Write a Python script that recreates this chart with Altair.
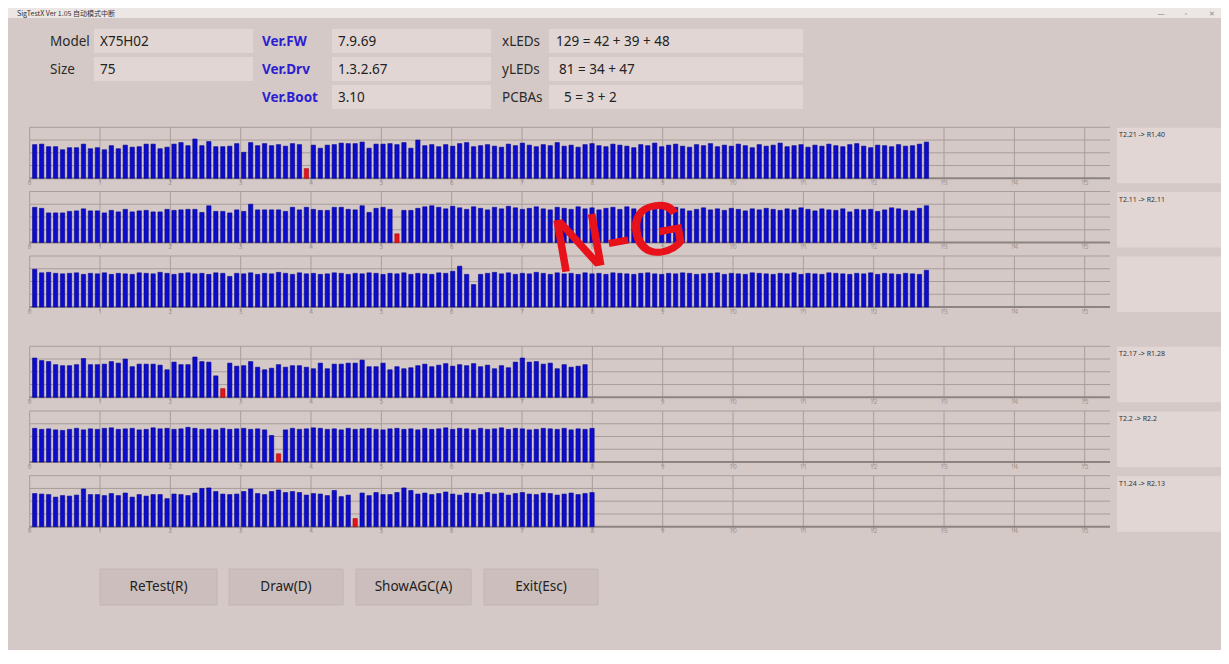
import altair as alt
import pandas as pd

# ---------------- data ----------------
TITLE = "SigTestX  Ver 1.05  自动模式中断"
INFO_LABELS_1 = ["Model", "Size"]
INFO_VALUES_1 = ["X75H02", "75"]
INFO_LABELS_2 = ["Ver.FW", "Ver.Drv", "Ver.Boot"]
INFO_VALUES_2 = ["7.9.69", "1.3.2.67", "3.10"]
INFO_LABELS_3 = ["xLEDs", "yLEDs", "PCBAs"]
INFO_VALUES_3 = ["129 = 42 + 39 + 48", "81 = 34 + 47", "5 = 3  + 2"]
BUTTONS = ["ReTest(R)", "Draw(D)", "ShowAGC(A)", "Exit(Esc)"]
PANEL_NAMES = ["T2.21 -> R1.40", "T2.11 -> R2.11", "", "T2.17 -> R1.28", "T2.2 -> R2.2", "T1.24 -> R2.13"]
TICK_LABELS = [str(i) for i in range(16)]
VERDICT = "N-G"

# signal level of each LED (percent of panel height); index of the failing LED
P1 = [66, 67, 62, 62, 56, 60, 60, 67, 58, 60, 56, 64, 58, 65, 61, 62, 67, 67, 58, 61,
      67, 70, 64, 77, 64, 72, 62, 62, 63, 68, 51, 70, 64, 68, 64, 66, 63, 68, 66, 19,
      65, 59, 65, 66, 69, 68, 68, 71, 59, 67, 67, 68, 66, 70, 59, 75,
      64, 66, 62, 66, 63, 68, 70, 62, 64, 66, 63, 61, 67, 64, 69, 65, 62, 66, 64, 70,
      63, 65, 61, 66, 68, 64, 62, 67, 65, 63, 60, 66, 64, 69, 62, 65, 67, 63, 61, 66,
      64, 68, 62, 65, 63, 67, 64, 60, 66, 63, 65, 69, 62, 64, 66, 61, 65, 63, 67, 64,
      62, 66, 68, 63, 60, 65, 64, 62, 66, 63, 64, 67, 71]
P2 = [69, 67, 58, 58, 58, 61, 62, 66, 62, 62, 58, 63, 60, 65, 60, 62, 63, 60, 60, 65,
      63, 64, 65, 65, 59, 72, 61, 61, 58, 64, 61, 75, 64, 64, 64, 64, 61, 69, 64, 69,
      65, 63, 63, 69, 69, 65, 64, 72, 59, 67, 69, 65, 17, 63, 63, 67,
      70, 72, 69, 66, 71, 68, 65, 70, 67, 64, 69, 66, 71, 68, 65, 67, 70, 66, 64, 69,
      67, 65, 70, 66, 68, 64, 67, 69, 65, 70, 66, 63, 68, 65, 67, 64, 69, 66, 62, 65,
      68, 64, 66, 63, 67, 65, 62, 66, 64, 67, 65, 63, 66, 64, 68, 65, 62, 66, 64, 63,
      66, 60, 65, 64, 65, 61, 64, 68, 66, 63, 62, 67, 72]
P3 = [74, 67, 68, 66, 65, 66, 67, 64, 66, 65, 67, 64, 66, 65, 64, 67, 66, 65, 68, 66,
      64, 66, 67, 65, 66, 64, 67, 66, 60, 66, 65, 67, 64, 66, 65, 68, 66, 64, 67, 65,
      66, 64, 65, 67, 66, 64, 66, 65, 67, 66, 64, 66, 65, 67, 64, 66, 65, 64, 67, 66,
      70, 80, 64, 44, 64, 66, 68, 65, 67, 64, 66, 65, 68, 66, 64, 67, 65, 66, 64, 67,
      65, 66, 64, 67, 66, 65, 64, 66, 67, 65, 64, 66, 65, 67, 66, 64, 65, 66, 67, 64,
      66, 65, 64, 67, 66, 65, 64, 66, 65, 67, 64, 66, 65, 64, 67, 66, 65, 64, 66, 65,
      67, 64, 66, 65, 64, 66, 65, 64, 72]
P4 = [77, 72, 70, 64, 62, 62, 64, 76, 64, 64, 65, 70, 67, 75, 60, 65, 65, 65, 63, 54,
      69, 64, 64, 79, 70, 69, 42, 17, 67, 61, 62, 70, 59, 54, 57, 64, 59, 62, 62, 59,
      56, 67, 56, 65, 65, 67, 67, 73, 60, 60, 67, 54, 60, 56, 58,
      62, 65, 60, 63, 66, 61, 64, 62, 66, 60, 63, 56,
      62, 58, 69, 77, 69, 70, 65, 67, 56, 64, 59, 61, 64]
P5 = [66, 64, 65, 63, 62, 64, 66, 63, 65, 64, 66, 67, 64, 65, 66, 63, 64, 67, 65, 66,
      64, 65, 68, 66, 64, 65, 63, 66, 64, 65, 66, 64, 65, 63, 52, 16, 63, 66, 64, 65,
      67, 66, 64, 65, 63, 66, 64, 65, 66, 64, 63, 65, 66, 64, 65, 63, 66, 64, 65, 67,
      64, 66, 65, 63, 66, 64, 65, 67, 64, 66, 65, 63, 64, 66, 65, 64, 66, 63, 65, 64, 66]
P6 = [65, 64, 63, 58, 61, 60, 62, 74, 63, 63, 61, 65, 61, 66, 58, 63, 60, 63, 63, 55,
      64, 63, 61, 66, 75, 76, 69, 64, 63, 64, 69, 74, 65, 63, 69, 72, 67, 69, 67, 62,
      65, 64, 61, 71, 59, 62, 16, 66, 61, 67, 63, 63, 67, 76, 71, 64,
      66, 63, 65, 68, 64, 62, 66, 65, 63, 67, 64, 66, 62, 65, 67, 64, 63, 66, 65, 62,
      64, 66, 63, 65, 67]
PANELS = [P1, P2, P3, P4, P5, P6]
RED_INDEX = [39, 52, -1, 27, 35, 46]
LEDS_PER_DIV = 10

# ---------------- layout / style ----------------
OFF = 8
W, H = 1213, 642
BG = "#d5c9c7"
BOX = "#e1d6d4"
TITLEBAR = "#ece6e5"
GRID = "#a89d9a"
AXIS = "#8d8380"
BLUE = "#0c0cca"
BLUE_EDGE = "#050590"
RED = "#e8121a"
RED_EDGE = "#a00a10"
TICKTXT = "#a09593"
BTN = "#cbbebc"
FONT = "Noto Sans"

X0, X15 = 29.7 - OFF, 1084.7 - OFF
XSCALE = alt.Scale(domain=[0, 15], range=[X0, X15])
X_END = 15.36
BASES = [v - OFF for v in [178.3, 242.5, 307.0, 397.3, 462.0, 526.7]]
PH = 51

layers = []


def rect_layer(df, fill, stroke=None, sw=0):
    kw = dict(fill=fill)
    if stroke:
        kw.update(stroke=stroke, strokeWidth=sw)
    return alt.Chart(df).mark_rect(**kw).encode(
        x=alt.X("x0:Q", scale=None, axis=None), x2="x1:Q",
        y=alt.Y("y0:Q", scale=None, axis=None), y2="y1:Q")


def text_layer(df, **kw):
    return alt.Chart(df).mark_text(**kw).encode(
        x=alt.X("x:Q", scale=None, axis=None),
        y=alt.Y("y:Q", scale=None, axis=None), text="t:N")


# title bar
layers.append(rect_layer(pd.DataFrame({"x0": [0], "x1": [W], "y0": [0], "y1": [10]}), TITLEBAR))
layers.append(text_layer(pd.DataFrame({"x": [9], "y": [5.5], "t": [TITLE]}),
                         font="Noto Sans CJK SC", fontSize=7, color="#333333", align="left", baseline="middle"))
layers.append(text_layer(pd.DataFrame({"x": [1153, 1178, 1204], "y": [5.5, 5.5, 5.5], "t": ["—", "▫", "✕"]}),
                         font=FONT, fontSize=7, color="#8a8a8a", align="center", baseline="middle"))

# info boxes
rows_y = [(21, 45), (49, 73), (77, 101)]
info_boxes = []
for (cx0, cx1), n in [((86, 245), 2), ((324, 483), 3), ((541, 795), 3)]:
    for r in range(n):
        info_boxes.append({"x0": cx0, "x1": cx1, "y0": rows_y[r][0], "y1": rows_y[r][1]})
layers.append(rect_layer(pd.DataFrame(info_boxes), BOX))

row_c = [33.5, 61.5, 89.5]
lab_plain = pd.DataFrame({"x": [42, 42] + [494] * 3,
                          "y": row_c[:2] + row_c,
                          "t": INFO_LABELS_1 + INFO_LABELS_3})
layers.append(text_layer(lab_plain, font=FONT, fontSize=13.5, color="#2a2a2a", align="left", baseline="middle"))
lab_blue = pd.DataFrame({"x": [254] * 3, "y": row_c, "t": INFO_LABELS_2})
layers.append(text_layer(lab_blue, font=FONT, fontSize=13.5, fontWeight="bold", color="#2b1ed0",
                         align="left", baseline="middle"))
vals = pd.DataFrame({"x": [92, 92, 330, 330, 330, 548, 551, 556],
                     "y": row_c[:2] + row_c + row_c,
                     "t": INFO_VALUES_1 + INFO_VALUES_2 + INFO_VALUES_3})
layers.append(text_layer(vals, font=FONT, fontSize=13.5, color="#222222", align="left", baseline="middle"))

# panel label boxes
pboxes = pd.DataFrame({"x0": [1109] * 6, "x1": [1216] * 6,
                       "y0": [b - PH + 0.5 for b in BASES], "y1": [b + 5 for b in BASES]})
layers.append(rect_layer(pboxes, BOX))
ptext = pd.DataFrame({"x": [1111] * 6, "y": [b - PH + 8 for b in BASES], "t": PANEL_NAMES})
layers.append(text_layer(ptext, font=FONT, fontSize=7, color="#333333", align="left", baseline="middle"))

# panels
for k, vals_k in enumerate(PANELS):
    base = BASES[k]
    ys = alt.Scale(domain=[0, 100], range=[base, base - PH])
    vg = pd.DataFrame({"x": list(range(16)), "top": [100] * 16, "bot": [-9] * 16})
    layers.append(alt.Chart(vg).mark_rule(color=GRID, strokeWidth=1).encode(
        x=alt.X("x:Q", scale=XSCALE, axis=None),
        y=alt.Y("top:Q", scale=ys, axis=None), y2="bot:Q"))
    hg = pd.DataFrame({"x": [0] * 4, "xe": [X_END] * 4, "v": [25, 50, 75, 100]})
    layers.append(alt.Chart(hg).mark_rule(color=GRID, strokeWidth=1).encode(
        x=alt.X("x:Q", scale=XSCALE, axis=None), x2="xe:Q",
        y=alt.Y("v:Q", scale=ys, axis=None)))
    bl = pd.DataFrame({"x": [0], "xe": [X_END], "v": [0]})
    layers.append(alt.Chart(bl).mark_rule(color=AXIS, strokeWidth=2).encode(
        x=alt.X("x:Q", scale=XSCALE, axis=None), x2="xe:Q",
        y=alt.Y("v:Q", scale=ys, axis=None)))
    tl = pd.DataFrame({"x": list(range(16)), "t": TICK_LABELS})
    layers.append(alt.Chart(tl).mark_text(font=FONT, fontSize=6.5, color=TICKTXT, baseline="middle").encode(
        x=alt.X("x:Q", scale=XSCALE, axis=None), y=alt.value(base + 4.5), text="t:N"))
    df = pd.DataFrame({"x": [i / LEDS_PER_DIV for i in range(len(vals_k))],
                       "v": vals_k,
                       "state": ["NG" if i == RED_INDEX[k] else "OK" for i in range(len(vals_k))]})
    layers.append(alt.Chart(df).mark_bar(size=4.3, strokeWidth=0.6).encode(
        x=alt.X("x:Q", scale=XSCALE, axis=None),
        y=alt.Y("v:Q", scale=ys, axis=None),
        color=alt.Color("state:N", scale=alt.Scale(domain=["OK", "NG"], range=[BLUE, RED]), legend=None),
        stroke=alt.Stroke("state:N", scale=alt.Scale(domain=["OK", "NG"], range=[BLUE_EDGE, RED_EDGE]), legend=None)))

# buttons
btn = pd.DataFrame({"x0": [92, 221, 348, 476], "x1": [209, 335, 463, 590], "y0": [561] * 4, "y1": [597] * 4})
layers.append(rect_layer(btn, BTN, stroke="#c2b4b2", sw=1))
btxt = pd.DataFrame({"x": [(a + b) / 2 for a, b in zip(btn.x0, btn.x1)], "y": [579] * 4, "t": BUTTONS})
layers.append(text_layer(btxt, font=FONT, fontSize=13.5, color="#222222", align="center", baseline="middle"))

# verdict stamp
layers.append(text_layer(pd.DataFrame({"x": [612], "y": [231], "t": [VERDICT]}),
                         font="Liberation Sans", fontSize=74, color=RED, angle=350,
                         stroke=RED, strokeWidth=1.4, align="center", baseline="middle"))

chart = alt.layer(*layers).resolve_scale(x="independent", y="independent", color="shared", stroke="shared").properties(
    width=W, height=H, autosize=alt.AutoSizeParams(type="none"), padding=0, background=BG
).configure_view(strokeWidth=0)

chart.save("out.html", embed_options={"renderer": "svg", "actions": False})
